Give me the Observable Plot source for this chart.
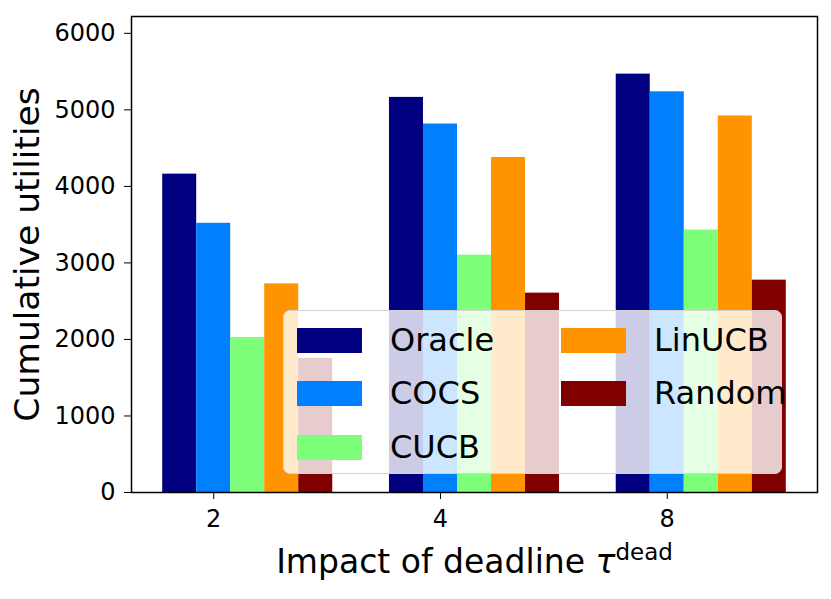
<!DOCTYPE html>
<html>
<head>
<meta charset="utf-8">
<script src="https://cdn.jsdelivr.net/npm/d3@7"></script>
<script src="https://cdn.jsdelivr.net/npm/@observablehq/plot@0.6"></script>
<style>
  html, body { margin: 0; padding: 0; background: #fff; }
  #wrap { position: relative; width: 831px; height: 599px; font-family: "DejaVu Sans", sans-serif; }
  #wrap svg { font-family: "DejaVu Sans", sans-serif; }
  g[aria-label="y-axis label"] text { font-size: 34.5px; }
  g[aria-label="x-axis label"] text { font-size: 33px; }
  .legend { position: absolute; left: 283px; top: 310px; width: 499px; height: 164px;
            background: rgba(255,255,255,0.8); border: 1.5px solid #d4d4d4; border-radius: 7px; box-sizing: border-box; }
  .entry { position: absolute; display: flex; align-items: center; height: 40px; }
  .sw { width: 65px; height: 25px; margin-right: 28px; }
  .lab { font-size: 32px; color: #000; line-height: 40px; }
</style>
</head>
<body>
<div id="wrap"></div>
<script>
const groups = ["2", "4", "8"];
const series = ["Oracle", "COCS", "CUCB", "LinUCB", "Random"];
const colors = ["#000080", "#0080ff", "#7dff7a", "#ff9400", "#800000"];
const Oracle = [4160, 5163, 5467];
const COCS   = [3518, 4815, 5236];
const CUCB   = [2025, 3102, 3430];
const LinUCB = [2726, 4378, 4920];
const Random = [1752, 2605, 2775];
const values = [Oracle, COCS, CUCB, LinUCB, Random];
const yTicks = [0, 1000, 2000, 3000, 4000, 5000, 6000];

const barW = 0.15;
const rows = [];
series.forEach((s, si) => {
  groups.forEach((g, gi) => {
    const c = gi + (si - 1) * barW;
    rows.push({series: s, group: g, x1: c - barW / 2, x2: c + barW / 2, value: values[si][gi]});
  });
});

const chart = Plot.plot({
  width: 831,
  height: 599,
  marginLeft: 131,
  marginRight: 14,
  marginTop: 16,
  marginBottom: 107,
  style: {fontFamily: "DejaVu Sans", fontSize: "24px", color: "#000", background: "#fff"},
  x: {domain: [-0.3625, 2.6625], ticks: [0, 1, 2], tickFormat: i => groups[i]},
  y: {domain: [0, 6220]},
  color: {domain: series, range: colors},
  marks: [
    Plot.rectY(rows, {x1: "x1", x2: "x2", y1: 0, y2: "value", fill: "series"}),
    Plot.axisY({ticks: yTicks, tickFormat: d => String(d), tickSize: 7, tickPadding: 9, fontSize: 24, label: "Cumulative utilities", labelAnchor: "center", labelOffset: 117, labelArrow: "none"}),
    Plot.axisX({ticks: [0, 1, 2], tickFormat: i => groups[i], tickSize: 7, tickPadding: 10, fontSize: 24, label: "Impact of deadline τ", labelAnchor: "center", labelOffset: 80, labelArrow: "none"}),
    Plot.frame({stroke: "#000", strokeWidth: 1.5})
  ]
});

const wrap = document.getElementById("wrap");
wrap.appendChild(chart);

// superscript on x label
const xl = d3.select(chart).select('g[aria-label="x-axis label"] text');
if (!xl.empty()) {
  xl.text(null);
  xl.append("tspan").text("Impact of deadline ");
  xl.append("tspan").attr("font-style", "italic").text("τ");
  xl.append("tspan").attr("font-size", "23px").attr("dy", "-0.55em").text("dead");
}

// legend
const leg = document.createElement("div");
leg.className = "legend";
const colLeft = [13, 277];
const rowTop = [9, 62, 116];
series.forEach((s, i) => {
  const e = document.createElement("div");
  e.className = "entry";
  e.style.left = colLeft[Math.floor(i / 3)] + "px";
  e.style.top = rowTop[i % 3] + "px";
  const sw = document.createElement("div");
  sw.className = "sw";
  sw.style.background = colors[i];
  const lab = document.createElement("span");
  lab.className = "lab";
  lab.textContent = s;
  e.appendChild(sw);
  e.appendChild(lab);
  leg.appendChild(e);
});
wrap.appendChild(leg);
</script>
</body>
</html>
